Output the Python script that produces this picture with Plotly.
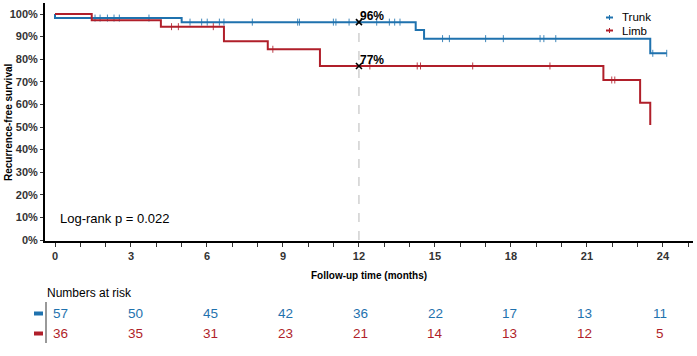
import plotly.graph_objects as go

# ---------------- data ----------------
groups = ["Trunk", "Limb"]
colors = {"Trunk": "#1f72ae", "Limb": "#b01f2a"}

trunk_times = [0.0, 0.0, 5.0, 14.24, 14.57, 23.5, 24.15]
trunk_surv = [1.0, 0.982, 0.964, 0.929, 0.891, 0.826, 0.826]
trunk_censor = [1.58, 1.78, 2.07, 2.33, 2.54, 3.71, 5.33, 5.79, 6.01, 6.49, 6.67,
                7.79, 9.58, 9.65, 10.99, 11.09, 11.61, 12.7, 13.2, 13.41, 13.62,
                15.3, 15.57, 17.0, 17.7, 19.15, 19.3, 19.77, 23.6, 24.15]

limb_times = [0.0, 1.45, 4.18, 6.67, 8.4, 10.46, 21.65, 23.1, 23.5]
limb_surv = [1.0, 0.972, 0.944, 0.879, 0.844, 0.770, 0.708, 0.607, 0.509]
limb_censor = [4.6, 4.87, 6.25, 8.6, 12.43, 14.3, 14.43, 16.49, 19.54, 21.98, 22.1]

landmark_time = 12
landmark_labels = {"Trunk": "96%", "Limb": "77%"}

risk_times = [0, 3, 6, 9, 12, 15, 18, 21, 24]
risk_trunk = [57, 50, 45, 42, 36, 22, 17, 13, 11]
risk_limb = [36, 35, 31, 23, 21, 14, 13, 12, 5]

y_ticks = [0, 0.1, 0.2, 0.3, 0.4, 0.5, 0.6, 0.7, 0.8, 0.9, 1.0]
y_ticklabels = [f"{int(round(v*100))}%" for v in y_ticks]
x_ticks = [0, 3, 6, 9, 12, 15, 18, 21, 24]

pvalue_text = "Log-rank p = 0.022"

# ---------------- helpers ----------------
W, H = 697, 356
def px(x):
    return x / W
def py(y):
    return 1 - y / H

def step_value(times, surv, t):
    v = surv[0]
    for ti, si in zip(times, surv):
        if ti <= t:
            v = si
    return v

FONT = "Arial, Liberation Sans, sans-serif"

fig = go.Figure()

series = {
    "Trunk": (trunk_times, trunk_surv, trunk_censor),
    "Limb": (limb_times, limb_surv, limb_censor),
}

# dashed landmark line
fig.add_trace(go.Scatter(x=[landmark_time, landmark_time],
                         y=[0, step_value(trunk_times, trunk_surv, landmark_time)],
                         mode="lines", line=dict(color="#b8b8b8", width=1, dash="dash"),
                         showlegend=False, hoverinfo="skip"))

for g in groups:
    t, s, c = series[g]
    col = colors[g]
    fig.add_trace(go.Scatter(x=t, y=s, mode="lines", line=dict(color=col, width=2, shape="hv"),
                             name=g, showlegend=False))
    fig.add_trace(go.Scatter(x=c, y=[step_value(t, s, ci) for ci in c], mode="markers",
                             marker=dict(symbol="line-ns-open", size=5, color=col, opacity=0.85,
                                         line=dict(color=col, width=1)),
                             showlegend=False, hoverinfo="skip"))

# landmark x markers and labels
for g in groups:
    t, s, c = series[g]
    v = step_value(t, s, landmark_time)
    fig.add_trace(go.Scatter(x=[landmark_time], y=[v], mode="markers",
                             marker=dict(symbol="x-thin-open", size=6, color="black",
                                         line=dict(color="black", width=1.6)),
                             showlegend=False, hoverinfo="skip"))
    fig.add_annotation(x=landmark_time, y=v, xref="x", yref="y", text=f"<b>{landmark_labels[g]}</b>",
                       showarrow=False, xanchor="left", yanchor="bottom", xshift=-1, yshift=-3,
                       font=dict(family=FONT, size=12, color="black"))

# p-value
fig.add_annotation(x=px(58), y=py(218), xref="paper", yref="paper", text=pvalue_text,
                   showarrow=False, xanchor="left", yanchor="middle",
                   font=dict(family=FONT, size=13, color="black"))

# axis titles
fig.add_annotation(x=px(369), y=py(275), xref="paper", yref="paper",
                   text="<b>Follow-up time (months)</b>", showarrow=False,
                   xanchor="center", yanchor="middle",
                   font=dict(family=FONT, size=10, color="black"))
fig.add_annotation(x=px(8), y=py(122), xref="paper", yref="paper",
                   text="<b>Recurrence-free survival</b>", showarrow=False, textangle=-90,
                   xanchor="center", yanchor="middle",
                   font=dict(family=FONT, size=10, color="black"))

# legend (manual)
legend_y = {"Trunk": 17.5, "Limb": 30.5}
for g in groups:
    yy = legend_y[g]
    fig.add_shape(type="line", xref="paper", yref="paper", x0=px(606), x1=px(613),
                  y0=py(yy), y1=py(yy), line=dict(color=colors[g], width=2))
    fig.add_shape(type="line", xref="paper", yref="paper", x0=px(609.5), x1=px(609.5),
                  y0=py(yy - 2.5), y1=py(yy + 2.5), line=dict(color=colors[g], width=1))
    fig.add_annotation(x=px(620), y=py(yy), xref="paper", yref="paper", text=g,
                       showarrow=False, xanchor="left", yanchor="middle",
                       font=dict(family=FONT, size=11.5, color="black"))

# risk table (uses its own hidden x scale, slightly narrower than the plot axis)
fig.add_annotation(x=px(45), y=py(292.5), xref="paper", yref="paper", text="Numbers at risk",
                   showarrow=False, xanchor="left", yanchor="middle",
                   font=dict(family=FONT, size=12, color="black"))
fig.add_shape(type="line", xref="paper", yref="paper", x0=px(46), x1=px(46),
              y0=py(302), y1=py(343), line=dict(color="#777777", width=1.5))
risk_rows = {"Trunk": (risk_trunk, 313.5), "Limb": (risk_limb, 333.5)}
for g in groups:
    vals, yy = risk_rows[g]
    fig.add_shape(type="rect", xref="paper", yref="paper", x0=px(34), x1=px(43),
                  y0=py(yy - 2), y1=py(yy + 2), line=dict(width=0), fillcolor=colors[g])
    for tt, v in zip(risk_times, vals):
        fig.add_annotation(x=tt, y=py(yy), xref="x2", yref="paper", text=str(v),
                           showarrow=False, xanchor="center", yanchor="middle",
                           font=dict(family=FONT, size=13.5, color=colors[g]))

x0_px, x1_px = 45, 693
y_bot_px, y_top_px = 241, 3
t_per_px = 1 / 25.33
tab0_px, tab_scale = 60.8, 24.954
fig.update_layout(
    width=W, height=H,
    margin=dict(l=0, r=0, t=0, b=0, autoexpand=False),
    paper_bgcolor="white", plot_bgcolor="white",
    showlegend=False,
    xaxis=dict(domain=[px(x0_px), px(x1_px)], automargin=False,
               range=[(x0_px - 55) * t_per_px, (x1_px - 55) * t_per_px],
               tickmode="array", tickvals=x_ticks, ticktext=[f"<b>{v}</b>" for v in x_ticks],
               ticks="outside", ticklen=4, tickcolor="#333333", tickwidth=1,
               minor=dict(dtick=1, tick0=0, ticks="outside", ticklen=4, tickcolor="#333333", tickwidth=1),
               showline=True, linecolor="black", linewidth=2, showgrid=False, zeroline=False,
               ticklabeloverflow="allow",
               tickfont=dict(family=FONT, size=11, color="#333333"), fixedrange=True),
    xaxis2=dict(domain=[px(x0_px), px(x1_px)], automargin=False, overlaying="x",
                range=[(x0_px - tab0_px) / tab_scale, (x1_px - tab0_px) / tab_scale],
                visible=False, fixedrange=True),
    yaxis=dict(domain=[py(y_bot_px), py(y_top_px)], automargin=False,
               range=[-(y_bot_px - 240) / 226, (240 - y_top_px) / 226],
               tickmode="array", tickvals=y_ticks, ticktext=[f"<b>{t}</b>" for t in y_ticklabels],
               ticks="outside", ticklen=3, tickcolor="#333333", tickwidth=1,
               showline=True, linecolor="black", linewidth=2, showgrid=False, zeroline=False,
               ticklabeloverflow="allow",
               tickfont=dict(family=FONT, size=11, color="#333333"), fixedrange=True),
)

# remove the default 8px page margin so the figure sits at the window's top-left
fig.write_html("out.html", config={"displayModeBar": False},
               post_script="document.body.style.margin='0';")
